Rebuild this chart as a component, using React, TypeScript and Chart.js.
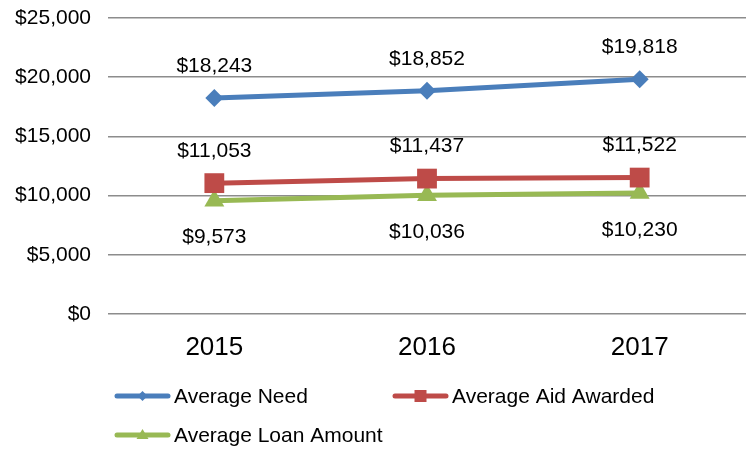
import React, { useEffect, useRef } from 'react';
import { Chart, registerables } from 'chart.js';

Chart.register(...registerables);

const FONT = '"Liberation Sans", Arial, sans-serif';

const years = ['2015', '2016', '2017'];
const averageNeed = [18243, 18852, 19818];
const averageAid = [11053, 11437, 11522];
const averageLoan = [9573, 10036, 10230];
const seriesNames = ['Average Need', 'Average Aid Awarded', 'Average Loan Amount'];
const seriesColors = ['#4A7EBB', '#BE4B48', '#98B954'];
const seriesMarkers = ['rectRot', 'rect', 'triangle'];
const yMin = 0;
const yMax = 25000;
const yStep = 5000;

const fmt = (v: number) => '$' + v.toLocaleString('en-US');

function drawMarker(ctx: CanvasRenderingContext2D, style: string, x: number, y: number, r: number) {
  ctx.beginPath();
  if (style === 'rectRot') {
    ctx.moveTo(x - r, y);
    ctx.lineTo(x, y - r);
    ctx.lineTo(x + r, y);
    ctx.lineTo(x, y + r);
  } else if (style === 'rect') {
    ctx.rect(x - r, y - r, 2 * r, 2 * r);
  } else {
    const h = r * 1.7;
    ctx.moveTo(x, y - h / 2 - 1);
    ctx.lineTo(x + r, y + h / 2 - 1);
    ctx.lineTo(x - r, y + h / 2 - 1);
  }
  ctx.closePath();
  ctx.fill();
}

const dataLabels = {
  id: 'dataLabels',
  afterDatasetsDraw(chart: any) {
    const ctx = chart.ctx as CanvasRenderingContext2D;
    ctx.save();
    ctx.font = `21px ${FONT}`;
    ctx.fillStyle = '#000';
    ctx.textAlign = 'center';
    ctx.textBaseline = 'middle';
    chart.data.datasets.forEach((ds: any, i: number) => {
      const meta = chart.getDatasetMeta(i);
      const dy = ds.labelBelow ? 37 : -32;
      meta.data.forEach((pt: any, j: number) => {
        ctx.fillText(fmt(ds.data[j]), pt.x, pt.y + dy);
      });
    });
    ctx.restore();
  },
};

const customLegend = {
  id: 'customLegend',
  afterDraw(chart: any) {
    const ctx = chart.ctx as CanvasRenderingContext2D;
    const area = chart.chartArea;
    const x0 = area.left + 7;
    const colGap = 278;
    const rowY = [area.bottom + 82, area.bottom + 121];
    const lineLen = 55;
    const slots = [
      { x: x0, y: rowY[0] },
      { x: x0 + colGap, y: rowY[0] },
      { x: x0, y: rowY[1] },
    ];
    const markerR = [5, 6, 6];
    ctx.save();
    chart.data.datasets.forEach((ds: any, i: number) => {
      const s = slots[i];
      ctx.strokeStyle = ds.borderColor;
      ctx.fillStyle = ds.borderColor;
      ctx.lineWidth = 5;
      ctx.lineCap = 'round';
      ctx.beginPath();
      ctx.moveTo(s.x + 2, s.y);
      ctx.lineTo(s.x + lineLen - 2, s.y);
      ctx.stroke();
      drawMarker(ctx, seriesMarkers[i], s.x + lineLen / 2, s.y, markerR[i]);
      ctx.fillStyle = '#000';
      ctx.font = `21px ${FONT}`;
      ctx.textAlign = 'left';
      ctx.textBaseline = 'middle';
      ctx.fillText(ds.label, s.x + lineLen + 4, s.y + 1);
    });
    ctx.restore();
  },
};

export default function App() {
  const ref = useRef<HTMLCanvasElement | null>(null);

  useEffect(() => {
    if (!ref.current) return;
    const series = [averageNeed, averageAid, averageLoan];
    const radii = [9, 14, 11.5];
    const chart = new Chart(ref.current, {
      type: 'line',
      data: {
        labels: years,
        datasets: series.map((d, i) => ({
          label: seriesNames[i],
          data: d,
          borderColor: seriesColors[i],
          backgroundColor: seriesColors[i],
          borderWidth: 5,
          pointStyle: seriesMarkers[i] as any,
          pointRadius: radii[i],
          pointHoverRadius: radii[i],
          pointBorderWidth: 0,
          pointBackgroundColor: seriesColors[i],
          tension: 0,
          labelBelow: i === 2,
        })) as any,
      },
      options: {
        responsive: false,
        animation: false,
        events: [],
        layout: { autoPadding: false, padding: { left: 0, right: 5, top: 18, bottom: 0 } },
        plugins: {
          legend: { display: false },
          tooltip: { enabled: false },
        },
        scales: {
          x: {
            offset: true,
            grid: { display: false, drawTicks: false },
            border: { display: false },
            ticks: {
              color: '#000',
              font: { family: FONT, size: 26 },
              padding: 18,
            },
            afterFit(scale: any) {
              scale.height = 138;
              scale.paddingLeft = 0;
              scale.paddingRight = 0;
            },
          },
          y: {
            min: yMin,
            max: yMax,
            grid: { color: '#8c8c8c', lineWidth: 1.5, drawTicks: false },
            border: { display: false },
            ticks: {
              stepSize: yStep,
              color: '#000',
              font: { family: FONT, size: 21 },
              padding: 17,
              callback: (v: any) => fmt(Number(v)),
            },
            afterFit(scale: any) {
              scale.width = 108;
              scale.paddingTop = 0;
              scale.paddingBottom = 0;
            },
          },
        },
      },
      plugins: [dataLabels, customLegend],
    });
    return () => chart.destroy();
  }, []);

  return (
    <div style={{ position: 'fixed', left: 0, top: 0, width: 751, height: 452, background: '#fff' }}>
      <canvas ref={ref} width={751} height={452} />
    </div>
  );
}
